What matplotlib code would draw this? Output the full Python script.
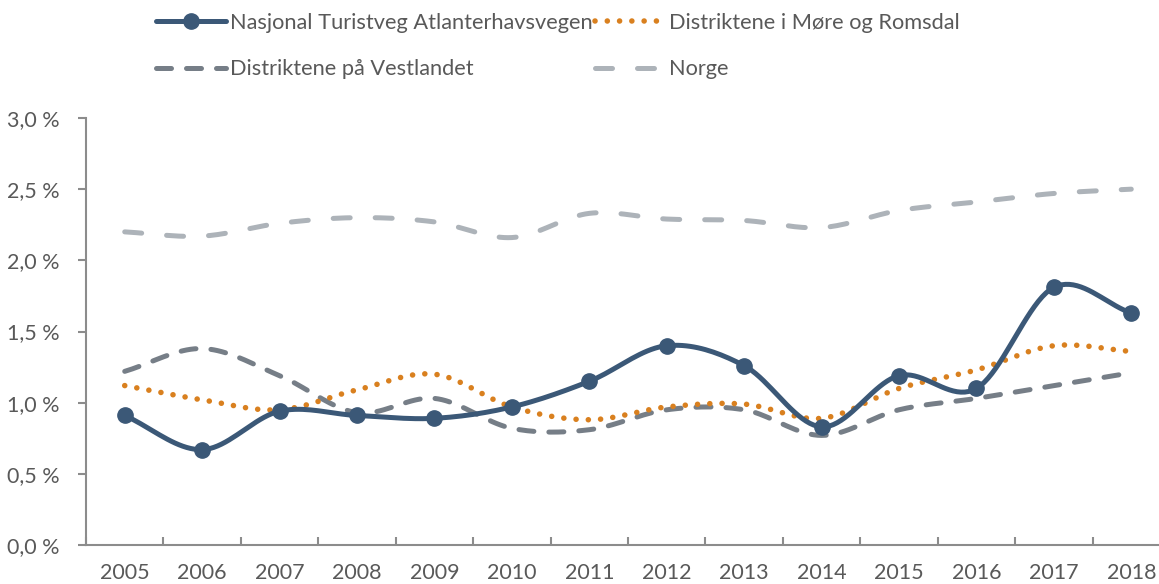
import numpy as np
import matplotlib
matplotlib.use('Agg')
import matplotlib.pyplot as plt
from matplotlib.ticker import FuncFormatter

# data (per cent)
years = ['2005', '2006', '2007', '2008', '2009', '2010', '2011',
         '2012', '2013', '2014', '2015', '2016', '2017', '2018']
atlanterhavsvegen = [0.91, 0.67, 0.94, 0.91, 0.89, 0.97, 1.15,
                     1.40, 1.26, 0.83, 1.19, 1.10, 1.81, 1.63]
moreRomsdal = [1.12, 1.02, 0.95, 1.09, 1.20, 0.97, 0.88,
               0.97, 0.99, 0.89, 1.10, 1.23, 1.40, 1.36]
vestlandet = [1.22, 1.38, 1.19, 0.93, 1.03, 0.82, 0.81,
              0.95, 0.95, 0.77, 0.95, 1.03, 1.12, 1.21]
norge = [2.20, 2.17, 2.26, 2.30, 2.27, 2.16, 2.33,
         2.29, 2.28, 2.23, 2.35, 2.41, 2.47, 2.50]

labels = ['Nasjonal Turistveg Atlanterhavsvegen', 'Distriktene i Møre og Romsdal',
          'Distriktene på Vestlandet', 'Norge']

# style
navy = '#3b5877'
orange = '#d9801f'
darkGrey = '#767e87'
lightGrey = '#adb3b9'
textGrey = '#595959'
axisGrey = '#8c8c8c'
nSeg = 20
fontSize = 15.5

plt.rcParams['font.family'] = ['Lato', 'DejaVu Sans']


def smooth(vals):
    '''Catmull-Rom spline through the points, like Excel smoothed lines'''
    y = np.asarray(vals, dtype=float)
    x = np.arange(len(y), dtype=float)
    px = np.concatenate([[2 * x[0] - x[1]], x, [2 * x[-1] - x[-2]]])
    py = np.concatenate([[2 * y[0] - y[1]], y, [2 * y[-1] - y[-2]]])
    xs, ys = [], []
    t = np.linspace(0, 1, nSeg, endpoint=False)
    for i in range(1, len(px) - 2):
        for arr, out in ((px, xs), (py, ys)):
            p0, p1, p2, p3 = arr[i - 1], arr[i], arr[i + 1], arr[i + 2]
            out.extend(0.5 * ((2 * p1) + (-p0 + p2) * t +
                              (2 * p0 - 5 * p1 + 4 * p2 - p3) * t ** 2 +
                              (-p0 + 3 * p1 - 3 * p2 + p3) * t ** 3))
    xs.append(x[-1])
    ys.append(y[-1])
    return np.array(xs), np.array(ys)


fig = plt.figure(figsize=(11.59, 5.84), dpi=100)
ax = fig.add_axes([86 / 1159, 1 - 545 / 584, (1170 - 86) / 1159, (545 - 118) / 584])

lines = []
sx, sy = smooth(atlanterhavsvegen)
lines += ax.plot(sx, sy, color=navy, lw=3.6, marker='o', markersize=11,
                 markevery=nSeg, label=labels[0], solid_capstyle='round', zorder=5)
sx, sy = smooth(moreRomsdal)
lines += ax.plot(sx, sy, color=orange, lw=4.0, linestyle=(0, (0.01, 2.2)),
                 dash_capstyle='round', label=labels[1], zorder=4)
sx, sy = smooth(vestlandet)
lines += ax.plot(sx, sy, color=darkGrey, lw=3.6, linestyle=(0, (3.0, 3.0)),
                 dash_capstyle='round', label=labels[2], zorder=3)
sx, sy = smooth(norge)
lines += ax.plot(sx, sy, color=lightGrey, lw=3.6, linestyle=(0, (3.4, 5.0)),
                 dash_capstyle='round', label=labels[3], zorder=2)

ax.set_xlim(-0.5, len(years) - 0.5)
ax.set_ylim(0, 3.0)
ax.set_yticks(np.arange(0, 3.01, 0.5))
ax.yaxis.set_major_formatter(FuncFormatter(lambda v, p: f'{v:.1f} %'.replace('.', ',')))
ax.set_xticks(np.arange(len(years)))
ax.set_xticklabels(years)
ax.set_xticks(np.arange(-0.5, len(years), 1.0), minor=True)

for side in ['top', 'right']:
    ax.spines[side].set_visible(False)
for side in ['left', 'bottom']:
    ax.spines[side].set_color(axisGrey)
    ax.spines[side].set_linewidth(1.5)

ax.tick_params(axis='x', which='major', length=0, pad=13, labelsize=fontSize, labelcolor=textGrey)
ax.tick_params(axis='x', which='minor', direction='in', length=6, width=1.5, color=axisGrey)
ax.tick_params(axis='y', direction='out', length=6, width=1.5, color=axisGrey,
               labelsize=fontSize, labelcolor=textGrey, pad=13)

# legend is filled column by column, so reorder to get row order
order = [0, 2, 1, 3]
fig.legend([lines[i] for i in order], [labels[i] for i in order],
           loc='upper left', bbox_to_anchor=(143 / 1159, 1.0), ncol=2, frameon=False,
           fontsize=15.7, labelcolor=textGrey, handlelength=3.2, handletextpad=0.2,
           columnspacing=0.1, labelspacing=1.2, borderaxespad=0.2)

fig.savefig('out.png', dpi=100)
